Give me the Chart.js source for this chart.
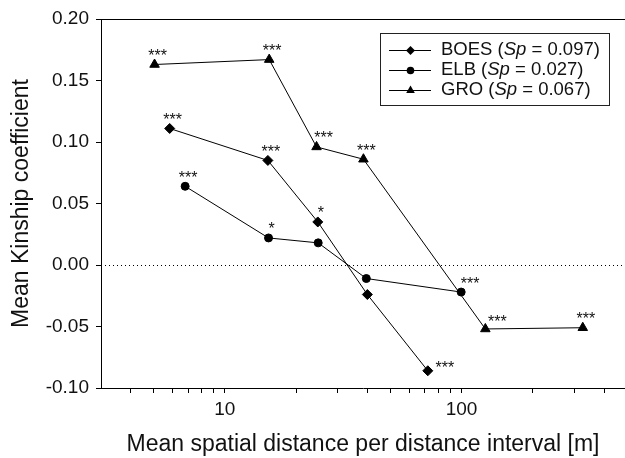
<!DOCTYPE html>
<html>
<head>
<meta charset="utf-8">
<script src="https://cdn.jsdelivr.net/npm/chart.js@4.4.0/dist/chart.umd.min.js"></script>
<style>
  html, body { margin: 0; padding: 0; background: #fff; }
  #wrap { width: 625px; height: 458px; }
</style>
</head>
<body>
<div id="wrap"><canvas id="kinship-chart" width="625" height="458"></canvas></div>
<script>
// series names and Sp values for the legend
const seriesNames = ['BOES', 'ELB', 'GRO'];
const spValues = ['0.097', '0.027', '0.067'];

// mean distance [m] / mean kinship / significance
const boesDist = [5.85, 15.2, 24.7, 40, 72];
const boesKin = [0.111, 0.085, 0.035, -0.024, -0.086];
const boesSig = ['***', '***', '*', '', '***'];

const elbDist = [6.8, 15.3, 24.8, 39.6, 99.6];
const elbKin = [0.064, 0.022, 0.018, -0.011, -0.022];
const elbSig = ['***', '*', '', '', '***'];

const groDist = [5.05, 15.4, 24.4, 38.5, 126, 325];
const groKin = [0.163, 0.167, 0.096, 0.086, -0.052, -0.051];
const groSig = ['***', '***', '***', '***', '***', '***'];

const yTicks = [-0.10, -0.05, 0.00, 0.05, 0.10, 0.15, 0.20];
const xTicks = [4, 5, 6, 7, 8, 9, 10, 20, 30, 40, 50, 60, 70, 80, 90, 100, 200, 300, 400];
const xLabelled = [10, 100];

const FONT = "'Liberation Sans', Arial, Helvetica, sans-serif";
const INK = '#111';

const styles = [
  { pointStyle: 'rectRot', radius: 5, legendRadius: 4.5 },
  { pointStyle: 'circle', radius: 4, legendRadius: 3.8 },
  { pointStyle: 'triangle', radius: 5.5, legendRadius: 5 }
];

// a few star labels sit off to the right of their point (dx, dy of the stars' middle)
const starShift = { '0-4': [17, -7], '1-4': [9, -12], '2-4': [12, -11], '2-2': [7, -13] };

function toPoints(xs, ys) {
  return xs.map((x, i) => ({ x: x, y: ys[i] }));
}

const sigs = [boesSig, elbSig, groSig];

function drawMarker(ctx, style, r, x, y) {
  ctx.beginPath();
  if (style === 'rectRot') {
    ctx.moveTo(x - r, y);
    ctx.lineTo(x, y - r);
    ctx.lineTo(x + r, y);
    ctx.lineTo(x, y + r);
  } else if (style === 'triangle') {
    for (let k = 0; k < 3; k++) {
      const a = k * 2 * Math.PI / 3;
      const px = x + Math.sin(a) * r, py = y - Math.cos(a) * r;
      k === 0 ? ctx.moveTo(px, py) : ctx.lineTo(px, py);
    }
  } else {
    ctx.arc(x, y, r, 0, Math.PI * 2);
  }
  ctx.closePath();
  ctx.fill();
}

const zeroLine = {
  id: 'zeroLine',
  beforeDatasetsDraw(chart) {
    const { ctx, chartArea, scales } = chart;
    const y = Math.round(scales.y.getPixelForValue(0)) + 0.5;
    ctx.save();
    ctx.strokeStyle = '#000';
    ctx.lineWidth = 1;
    ctx.setLineDash([1, 3]);
    ctx.beginPath();
    ctx.moveTo(chartArea.left, y);
    ctx.lineTo(chartArea.right, y);
    ctx.stroke();
    ctx.restore();
  }
};

const topFrame = {
  id: 'topFrame',
  afterDraw(chart) {
    const { ctx, chartArea } = chart;
    ctx.save();
    ctx.strokeStyle = '#000';
    ctx.lineWidth = 1;
    ctx.beginPath();
    ctx.moveTo(chartArea.left, Math.round(chartArea.top) + 0.5);
    ctx.lineTo(chartArea.right, Math.round(chartArea.top) + 0.5);
    ctx.stroke();
    ctx.restore();
  }
};

// significance stars above the points
const sigStars = {
  id: 'sigStars',
  afterDatasetsDraw(chart) {
    const ctx = chart.ctx;
    ctx.save();
    ctx.fillStyle = INK;
    ctx.font = '16px ' + FONT;
    ctx.textAlign = 'center';
    ctx.textBaseline = 'alphabetic';
    sigs.forEach((list, d) => {
      const meta = chart.getDatasetMeta(d);
      list.forEach((txt, i) => {
        if (!txt) return;
        const pt = meta.data[i];
        const [dx, dy] = starShift[d + '-' + i] || [3, -13];
        // '*' glyph middle is ~9px above the baseline
        ctx.fillText(txt, pt.x + dx, pt.y + dy + 9.4);
      });
    });
    ctx.restore();
  }
};

const boxLegend = {
  id: 'boxLegend',
  afterDraw(chart) {
    const ctx = chart.ctx;
    const box = { x: 380.5, y: 33.5, w: 229, h: 72 };
    ctx.save();
    ctx.fillStyle = '#fff';
    ctx.fillRect(box.x, box.y, box.w, box.h);
    ctx.strokeStyle = '#222';
    ctx.lineWidth = 1;
    ctx.strokeRect(box.x, box.y, box.w, box.h);
    ctx.textBaseline = 'middle';
    seriesNames.forEach((name, i) => {
      const y = 50 + i * 20;
      ctx.strokeStyle = '#000';
      ctx.beginPath();
      ctx.moveTo(389, y + 0.5);
      ctx.lineTo(431, y + 0.5);
      ctx.stroke();
      ctx.fillStyle = '#000';
      drawMarker(ctx, styles[i].pointStyle, styles[i].legendRadius, 410.5, y + 0.5);
      ctx.fillStyle = INK;
      let x = 441;
      const parts = [
        [name + ' (', ''],
        ['Sp', 'italic '],
        [' = ' + spValues[i] + ')', '']
      ];
      parts.forEach(([t, st]) => {
        ctx.font = st + '18.5px ' + FONT;
        ctx.fillText(t, x, y);
        x += ctx.measureText(t).width;
      });
    });
    ctx.restore();
  }
};

const datasets = [
  toPoints(boesDist, boesKin),
  toPoints(elbDist, elbKin),
  toPoints(groDist, groKin)
].map((data, i) => ({
  label: seriesNames[i],
  data: data,
  borderColor: '#000',
  borderWidth: 1,
  backgroundColor: '#000',
  pointStyle: styles[i].pointStyle,
  pointRadius: styles[i].radius,
  pointHoverRadius: styles[i].radius,
  pointBackgroundColor: '#000',
  pointBorderColor: '#000',
  pointBorderWidth: 1,
  tension: 0,
  clip: false
}));

new Chart(document.getElementById('kinship-chart'), {
  type: 'line',
  data: { datasets },
  options: {
    responsive: false,
    animation: false,
    devicePixelRatio: 1,
    // no auto padding for the markers: the plot runs to the right edge
    layout: { autoPadding: false, padding: { top: 19, right: 0, left: 0, bottom: 0 } },
    plugins: {
      legend: { display: false },
      tooltip: { enabled: false }
    },
    scales: {
      x: {
        type: 'logarithmic',
        min: 3,
        max: 490,
        afterBuildTicks: (scale) => { scale.ticks = xTicks.map(v => ({ value: v })); },
        afterFit: (scale) => {
          scale.height = 70;
          scale.paddingLeft = 0;
          scale.paddingRight = 0;
        },
        ticks: {
          autoSkip: false,
          maxRotation: 0,
          padding: 5,
          color: INK,
          font: { family: FONT, size: 19 },
          callback: (v) => xLabelled.includes(v) ? String(v) : ''
        },
        grid: { drawOnChartArea: false, drawTicks: true, tickLength: 5, color: '#000' },
        border: { display: true, color: '#000', width: 1 },
        title: {
          display: true,
          text: 'Mean spatial distance per distance interval [m]',
          color: INK,
          font: { family: FONT, size: 23 },
          padding: { top: 0, bottom: 0 }
        }
      },
      y: {
        type: 'linear',
        min: -0.1,
        max: 0.2,
        afterBuildTicks: (scale) => { scale.ticks = yTicks.map(v => ({ value: v })); },
        afterFit: (scale) => { scale.width = 101; },
        ticks: {
          padding: 7,
          color: INK,
          font: { family: FONT, size: 19 },
          callback: (v) => (Math.abs(v) < 1e-9 ? 0 : v).toFixed(2)
        },
        grid: { drawOnChartArea: false, drawTicks: true, tickLength: 5, color: '#000' },
        border: { display: true, color: '#000', width: 1 },
        title: {
          display: true,
          text: 'Mean Kinship coefficient',
          color: INK,
          font: { family: FONT, size: 23 },
          padding: { top: 8, bottom: 0 }
        }
      }
    }
  },
  plugins: [zeroLine, topFrame, sigStars, boxLegend]
});
</script>
</body>
</html>
